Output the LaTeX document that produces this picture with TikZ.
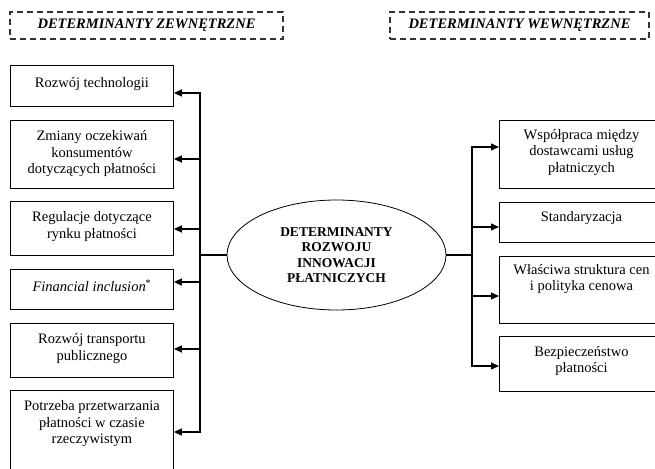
\documentclass[tikz,border=0pt]{standalone}
\usepackage{fontspec}
\setmainfont{Liberation Serif}
\usetikzlibrary{shapes.geometric,arrows.meta}
\begin{document}
\begin{tikzpicture}[x=1pt,y=-1pt,
 box/.style={draw, line width=0.9pt, inner sep=0pt, anchor=north west},
 txt/.style={anchor=north, align=center, inner sep=0pt, font=\fontsize{14.5}{16.5}\selectfont, execute at begin node=\strut},
 hdr/.style={draw=black!80, dash pattern=on 6pt off 4pt, line width=1.1pt, minimum height=27pt, inner sep=0pt, font=\fontsize{14.5}{16.5}\selectfont\bfseries\itshape},
 conn/.style={line width=1.3pt, line cap=rect},
 arr/.style={line width=1.3pt, -{Triangle[length=8pt,width=7pt]}}]
\useasboundingbox (0,0) rectangle (655,468);
\clip (0,0) rectangle (655,468);
% headers
\node[hdr, minimum width=273pt] (H1) at (146.5,25.5) {DETERMINANTY ZEWNĘTRZNE};
\node[hdr, minimum width=259pt] (H2) at (519.5,25.5) {DETERMINANTY WEWNĘTRZNE};
% left boxes
\node[box, minimum width=163pt, minimum height=41pt] (L1) at (10,65) {};
\node[box, minimum width=163pt, minimum height=68pt] (L2) at (10,120) {};
\node[box, minimum width=163pt, minimum height=54pt] (L3) at (10,201) {};
\node[box, minimum width=163pt, minimum height=40pt] (L4) at (10,269) {};
\node[box, minimum width=163pt, minimum height=54pt] (L5) at (10,323) {};
\node[box, minimum width=163pt, minimum height=90pt] (L6) at (10,390) {};
\node[txt] (L1t) at ([yshift=-10.5pt]L1.north) {Rozwój technologii};
\node[txt] (L2t) at ([yshift=-10.5pt]L2.north) {Zmiany oczekiwań\\konsumentów\\dotyczących płatności};
\node[txt] (L3t) at ([yshift=-10.5pt]L3.north) {Regulacje dotyczące\\rynku płatności};
\node[txt] (L4t) at ([yshift=-10.5pt]L4.north) {\textit{Financial inclusion}\textsuperscript{*}};
\node[txt] (L5t) at ([yshift=-10.5pt]L5.north) {Rozwój transportu\\publicznego};
\node[txt] (L6t) at ([yshift=-10.5pt]L6.north) {Potrzeba przetwarzania\\płatności w czasie\\rzeczywistym};
% right boxes
\node[box, minimum width=164pt, minimum height=68pt] (R1) at (499,120) {};
\node[box, minimum width=164pt, minimum height=40pt] (R2) at (499,202) {};
\node[box, minimum width=164pt, minimum height=67pt] (R3) at (499,256) {};
\node[box, minimum width=164pt, minimum height=55pt] (R4) at (499,336) {};
\node[txt] (R1t) at ([yshift=-9pt]R1.north) {Współpraca między\\dostawcami usług\\płatniczych};
\node[txt] (R2t) at ([yshift=-8pt]R2.north) {Standaryzacja};
\node[txt] (R3t) at ([yshift=-8pt]R3.north) {Właściwa struktura cen\\i polityka cenowa};
\node[txt] (R4t) at ([yshift=-10pt]R4.north) {Bezpieczeństwo\\płatności};
% ellipse
\node[draw, ellipse, line width=0.8pt, minimum width=219pt, minimum height=110pt, inner sep=0pt, align=center, font=\fontsize{13.5}{15.3}\selectfont\bfseries] (E) at (336.5,255) {DETERMINANTY\\ROZWOJU\\INNOWACJI\\PŁATNICZYCH};
% connectors left
\coordinate (lv1) at (200,93);
\coordinate (lv2) at (200,159);
\coordinate (lv3) at (200,229);
\coordinate (lv4) at (200,282);
\coordinate (lv5) at (200,349);
\coordinate (lv6) at (200,432);
\draw[conn] (lv1) -- (lv6);
\draw[conn] (E.west) -- (E.west -| lv1);
\foreach \i in {1,...,6} {\draw[arr] (lv\i) -- (lv\i -| L\i.east);}
% connectors right
\coordinate (rv1) at (472,147);
\coordinate (rv2) at (472,227);
\coordinate (rv3) at (472,296);
\coordinate (rv4) at (472,366);
\draw[conn] (rv1) -- (rv4);
\draw[conn] (E.east) -- (E.east -| rv1);
\foreach \i in {1,...,4} {\draw[arr] (rv\i) -- (rv\i -| R\i.west);}
\end{tikzpicture}
\end{document}
